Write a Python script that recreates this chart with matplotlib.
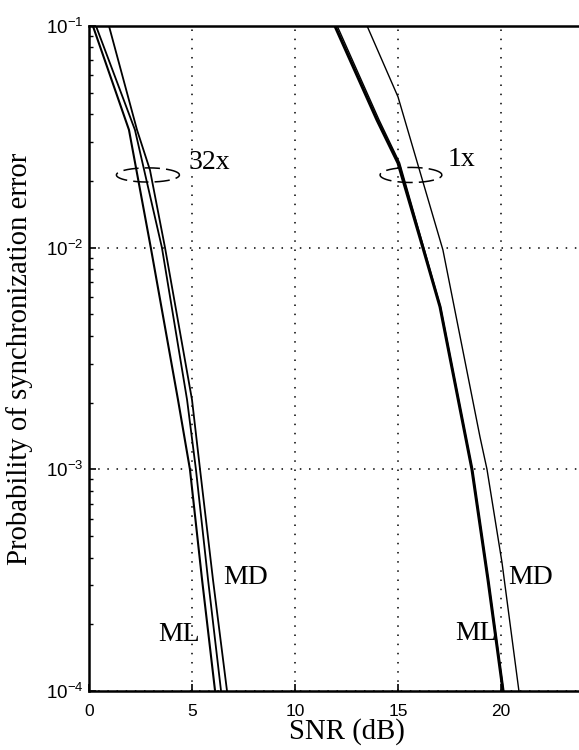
import numpy as np
import matplotlib
matplotlib.use("Agg")
import matplotlib.pyplot as plt
from matplotlib.ticker import FixedLocator, LogLocator, NullFormatter, LogFormatterSciNotation

# ---- curve data: SNR (dB) vs. probability of synchronization error ----
# 32x oversampling
snr_ml_32x = [0.19, 1.94, 3.00, 4.32, 4.90, 5.49, 6.12]
pe_ml_32x = [0.1, 0.034, 0.01, 0.00206, 0.001, 0.000317, 0.0001]

snr_ml2_32x = [0.34, 2.23, 3.54, 4.76, 5.19, 5.78, 6.41]
pe_ml2_32x = [0.1, 0.034, 0.01, 0.00206, 0.001, 0.000317, 0.0001]

snr_md_32x = [0.97, 2.33, 2.96, 3.69, 5.00, 5.39, 6.02, 6.70]
pe_md_32x = [0.1, 0.034, 0.0224, 0.01, 0.00206, 0.001, 0.000317, 0.0001]

# 1x oversampling
snr_ml_1x = [11.94, 13.98, 15.00, 16.21, 17.04, 18.59, 19.37, 20.10]
pe_ml_1x = [0.1, 0.0377, 0.0241, 0.01, 0.00541, 0.001, 0.000317, 0.0001]

snr_ml2_1x = [12.05, 14.08, 15.08, 16.25, 17.06, 18.60, 19.38, 20.12]
pe_ml2_1x = [0.1, 0.0377, 0.0241, 0.01, 0.00541, 0.001, 0.000317, 0.0001]

snr_md_1x = [13.50, 15.00, 17.18, 18.98, 19.32, 20.05, 20.87]
pe_md_1x = [0.1, 0.0479, 0.00977, 0.0014, 0.001, 0.000379, 0.0001]

x_ticks = [0, 5, 10, 15, 20]
y_ticks = [1e-4, 1e-3, 1e-2, 1e-1]

# group markers: (centre SNR, centre log10 Pe, half-width dB, half-height decades)
group_32x = (2.86, -1.672, 1.53, 0.032)
group_1x = (15.63, -1.672, 1.50, 0.034)

plt.rcParams["font.family"] = ["Liberation Sans", "DejaVu Sans"]
serif = ["Liberation Serif", "DejaVu Serif"]

fig = plt.figure(figsize=(5.79, 7.5), dpi=100)
ax = fig.add_axes([89 / 579, 59 / 750, 515 / 579, 665 / 750])
ax.set_yscale("log")
ax.set_xlim(0, 25)
ax.set_ylim(1e-4, 1e-1)

line_kw = dict(color="black", solid_joinstyle="round", clip_on=True)
ax.plot(snr_ml_32x, pe_ml_32x, lw=1.5, **line_kw)
ax.plot(snr_ml2_32x, pe_ml2_32x, lw=1.3, **line_kw)
ax.plot(snr_md_32x, pe_md_32x, lw=1.3, **line_kw)
ax.plot(snr_ml_1x, pe_ml_1x, lw=2.2, **line_kw)
ax.plot(snr_ml2_1x, pe_ml2_1x, lw=1.0, **line_kw)
ax.plot(snr_md_1x, pe_md_1x, lw=1.0, **line_kw)

# dashed ellipses grouping the curves
t = np.linspace(0, 2 * np.pi, 200)
for cx, cy, a, b in (group_32x, group_1x):
    ax.plot(cx + a * np.cos(t), 10 ** (cy + b * np.sin(t)), color="black",
            lw=1.1, linestyle=(0, (10, 4)))

text_kw = dict(family=serif, fontsize=20, color="black", va="center", ha="left")
ax.text(4.81, 10 ** -1.618, "32x", **text_kw)
ax.text(17.43, 10 ** -1.604, "1x", **text_kw)
ax.text(3.35, 10 ** -3.747, "ML", **text_kw)
ax.text(6.50, 10 ** -3.49, "MD", **text_kw)
ax.text(17.77, 10 ** -3.742, "ML", **text_kw)
ax.text(20.34, 10 ** -3.49, "MD", **text_kw)

# axes styling
ax.xaxis.set_major_locator(FixedLocator(x_ticks))
ax.yaxis.set_major_locator(FixedLocator(y_ticks))
ax.yaxis.set_major_formatter(LogFormatterSciNotation())
ax.yaxis.set_minor_locator(LogLocator(base=10, subs=np.arange(2, 10)))
ax.yaxis.set_minor_formatter(NullFormatter())
ax.tick_params(axis="both", which="major", direction="in", length=5, width=1.2,
               top=False, right=False)
ax.tick_params(axis="x", labelsize=12.5, pad=9)
ax.tick_params(axis="y", labelsize=13.5, pad=4)
ax.tick_params(axis="y", which="minor", direction="in", length=3, width=1.0)
ax.grid(True, which="major", color="black", linestyle=(0, (1, 5)), lw=1.1)
for side in ("left", "bottom", "top"):
    ax.spines[side].set_linewidth(1.8)
ax.spines["right"].set_visible(False)

ax.set_xlabel("SNR (dB)", family=serif, fontsize=20.7, labelpad=0)
ax.set_ylabel("Probability of synchronization error", family=serif, fontsize=20.7)
ax.yaxis.set_label_coords(-0.109, 0.5)

fig.savefig("out.png", dpi=100)
